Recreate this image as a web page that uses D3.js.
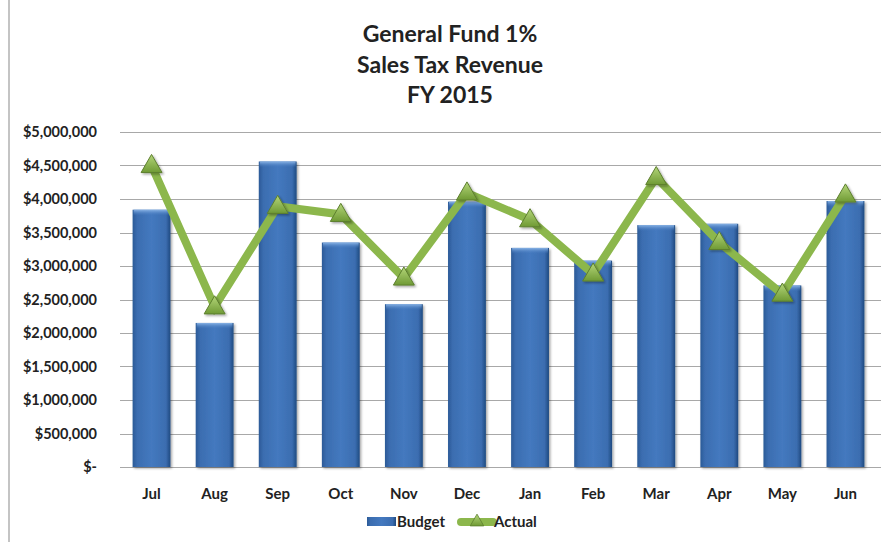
<!DOCTYPE html>
<html lang="en">
<head>
    <meta charset="UTF-8">
    <title>General Fund 1% Sales Tax Revenue FY 2015</title>
    <script src="https://d3js.org/d3.v7.min.js"></script>
    <style>
        body { margin: 0; background: #fff; }
        text { font-family: Lato, "Open Sans", sans-serif; font-weight: bold; fill: #222; }
    </style>
</head>
<body>
    <svg id="chart" width="881" height="542"></svg>
    <script>
        const months = ["Jul", "Aug", "Sep", "Oct", "Nov", "Dec", "Jan", "Feb", "Mar", "Apr", "May", "Jun"];
        const budget = [3840000, 2150000, 4560000, 3350000, 2430000, 3960000, 3270000, 3080000, 3610000, 3630000, 2710000, 3970000];
        const actual = [4500000, 2390000, 3890000, 3770000, 2820000, 4090000, 3690000, 2880000, 4320000, 3350000, 2580000, 4060000];
        const yTicks = [0, 500000, 1000000, 1500000, 2000000, 2500000, 3000000, 3500000, 4000000, 4500000, 5000000];
        const titleLines = ["General Fund 1%", "Sales Tax Revenue", "FY 2015"];

        const svg = d3.select("#chart");
        const margin = {top: 132, right: 4, bottom: 75, left: 120};
        const width = +svg.attr("width") - margin.left - margin.right;
        const height = +svg.attr("height") - margin.top - margin.bottom;

        // left border of the chart frame
        svg.append("line")
            .attr("x1", 9).attr("x2", 9).attr("y1", 0).attr("y2", 542)
            .attr("stroke", "#c4c4c4").attr("stroke-width", 2);

        const defs = svg.append("defs");
        const barGrad = defs.append("linearGradient").attr("id", "barGrad")
            .attr("x1", "0%").attr("x2", "100%").attr("y1", "0%").attr("y2", "0%");
        barGrad.append("stop").attr("offset", "0%").attr("stop-color", "#2b5a97");
        barGrad.append("stop").attr("offset", "12%").attr("stop-color", "#3b6db0");
        barGrad.append("stop").attr("offset", "50%").attr("stop-color", "#4479bf");
        barGrad.append("stop").attr("offset", "88%").attr("stop-color", "#3b6db0");
        barGrad.append("stop").attr("offset", "100%").attr("stop-color", "#1f4a80");

        const capGrad = defs.append("linearGradient").attr("id", "capGrad")
            .attr("x1", "0%").attr("x2", "0%").attr("y1", "0%").attr("y2", "100%");
        capGrad.append("stop").attr("offset", "0%").attr("stop-color", "#8ab4e6");
        capGrad.append("stop").attr("offset", "100%").attr("stop-color", "#4479bf").attr("stop-opacity", 0);

        const triGrad = defs.append("linearGradient").attr("id", "triGrad")
            .attr("x1", "0%").attr("x2", "0%").attr("y1", "0%").attr("y2", "100%");
        triGrad.append("stop").attr("offset", "0%").attr("stop-color", "#b4d67a");
        triGrad.append("stop").attr("offset", "100%").attr("stop-color", "#6f9a34");

        const shadow = defs.append("filter").attr("id", "shadow")
            .attr("x", "-20%").attr("y", "-20%").attr("width", "150%").attr("height", "150%");
        shadow.append("feDropShadow").attr("dx", 1.5).attr("dy", 1.5).attr("stdDeviation", 1.2)
            .attr("flood-color", "#000").attr("flood-opacity", 0.35);

        const g = svg.append("g").attr("transform", `translate(${margin.left},${margin.top})`);

        const x = d3.scaleBand().domain(months).range([0, 757]).paddingInner(0.4).paddingOuter(0.2);
        const y = d3.scaleLinear().domain([0, 5000000]).range([height, 0]);

        // gridlines
        g.append("g")
            .selectAll("line")
            .data(yTicks)
            .join("line")
            .attr("x1", 0).attr("x2", width + 10)
            .attr("y1", d => Math.round(y(d)) + 0.5).attr("y2", d => Math.round(y(d)) + 0.5)
            .attr("stroke", "#a8a8a8").attr("stroke-width", 1);

        // y axis labels
        const fmt = d => d === 0 ? "$-" : d3.format("$,")(d);
        const yAxis = g.append("g")
            .attr("transform", "translate(-20,0)")
            .call(d3.axisLeft(y).tickValues(yTicks).tickFormat(fmt).tickSize(0));
        yAxis.select(".domain").remove();
        yAxis.selectAll("text").attr("font-size", 14.5).attr("fill", "#222")
            .style("font-family", "Lato, sans-serif").style("font-weight", "bold");

        // x axis labels
        const xAxis = g.append("g")
            .attr("transform", `translate(0,${height + 18})`)
            .call(d3.axisBottom(x).tickSize(0));
        xAxis.select(".domain").remove();
        xAxis.selectAll("text").attr("font-size", 15).attr("fill", "#222")
            .style("font-family", "Lato, sans-serif").style("font-weight", "bold");

        // bars
        const bars = g.append("g").selectAll("g")
            .data(months.map((m, i) => ({month: m, value: budget[i]})))
            .join("g");
        bars.append("rect")
            .attr("x", d => x(d.month))
            .attr("y", d => y(d.value))
            .attr("width", x.bandwidth())
            .attr("height", d => height - y(d.value))
            .attr("fill", "url(#barGrad)")
            .attr("filter", "url(#shadow)");
        bars.append("rect")
            .attr("x", d => x(d.month) + 1)
            .attr("y", d => y(d.value))
            .attr("width", x.bandwidth() - 2)
            .attr("height", 6)
            .attr("fill", "url(#capGrad)");

        // actual line
        const pts = months.map((m, i) => ({month: m, value: actual[i]}));
        const line = d3.line()
            .x(d => x(d.month) + x.bandwidth() / 2)
            .y(d => y(d.value));
        g.append("path")
            .datum(pts)
            .attr("d", line)
            .attr("fill", "none")
            .attr("stroke", "#8cb74c")
            .attr("stroke-width", 8)
            .attr("stroke-linejoin", "miter");

        const tri = d3.symbol().type(d3.symbolTriangle).size(190);
        g.append("g").selectAll("path")
            .data(pts)
            .join("path")
            .attr("transform", d => `translate(${x(d.month) + x.bandwidth() / 2},${y(d.value) + 1})`)
            .attr("d", tri)
            .attr("fill", "url(#triGrad)")
            .attr("stroke", "#5d7f2e")
            .attr("stroke-width", 1)
            .attr("filter", "url(#shadow)");

        // title
        svg.append("g").selectAll("text")
            .data(titleLines)
            .join("text")
            .attr("x", 450)
            .attr("y", (d, i) => 42 + i * 30.5)
            .attr("text-anchor", "middle")
            .attr("font-size", 23)
            .text(d => d);

        // legend
        const legend = svg.append("g");
        legend.append("rect")
            .attr("x", 367).attr("y", 517).attr("width", 29).attr("height", 9)
            .attr("fill", "url(#barGrad)");
        legend.append("text").attr("x", 397).attr("y", 527).attr("font-size", 15).text("Budget");
        legend.append("line")
            .attr("x1", 461).attr("x2", 493).attr("y1", 522).attr("y2", 522)
            .attr("stroke", "#8cb74c").attr("stroke-width", 8).attr("stroke-linecap", "round");
        legend.append("path")
            .attr("transform", "translate(477,522)")
            .attr("d", d3.symbol().type(d3.symbolTriangle).size(80))
            .attr("fill", "url(#triGrad)").attr("stroke", "#5d7f2e").attr("stroke-width", 0.8);
        legend.append("text").attr("x", 494).attr("y", 527).attr("font-size", 15).text("Actual");
    </script>
</body>
</html>
